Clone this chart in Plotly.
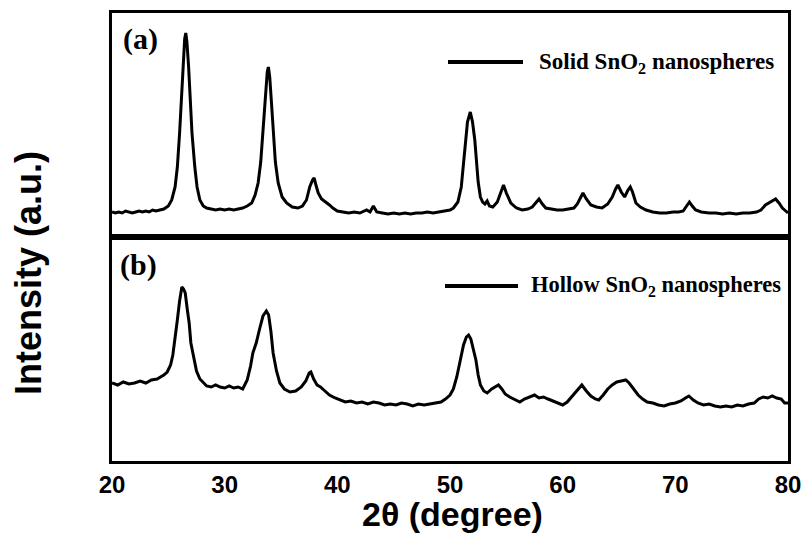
import plotly.graph_objects as go
from plotly.subplots import make_subplots

# ---- Data (intensity in a.u.) ----
solid_2theta = [20.0, 20.3, 20.6, 20.9, 21.2, 21.5, 21.8, 22.1, 22.4, 22.7, 23.0, 23.3, 23.6, 23.9, 24.2, 24.6,
                25.0, 25.3, 25.6, 25.8, 26.0, 26.15, 26.3, 26.45, 26.55, 26.65, 26.8, 26.95, 27.1, 27.35, 27.55,
                27.8, 28.1, 28.4, 28.8, 29.2, 29.6, 30.0, 30.4, 30.8, 31.2, 31.6, 32.0, 32.4, 32.7, 32.97, 33.2,
                33.4, 33.6, 33.78, 33.88, 34.0, 34.15, 34.3, 34.5, 34.75, 35.1, 35.5, 36.0, 36.5, 36.9, 37.26,
                37.55, 37.8, 37.94, 38.1, 38.3, 38.6, 39.0, 39.3, 39.6, 40.0, 40.5, 41.0, 41.5, 42.0, 42.6, 42.9,
                43.2, 43.5, 44.0, 44.5, 45.0, 45.5, 46.0, 46.5, 47.0, 47.5, 48.0, 48.5, 49.0, 49.5, 50.0, 50.3,
                50.7, 51.0, 51.3, 51.55, 51.8, 52.0, 52.2, 52.35, 52.5, 52.7, 52.9, 53.1, 53.3, 53.5, 53.8, 54.2,
                54.5, 54.75, 55.0, 55.4, 55.9, 56.4, 56.9, 57.3, 57.6, 57.9, 58.2, 58.5, 59.0, 59.5, 60.0, 60.5,
                61.0, 61.3, 61.55, 61.8, 62.1, 62.5, 63.0, 63.5, 64.0, 64.4, 64.7, 64.9, 65.2, 65.5, 65.8, 66.0,
                66.2, 66.5, 66.9, 67.4, 68.0, 68.6, 69.2, 69.8, 70.3, 70.7, 71.0, 71.25, 71.5, 71.8, 72.3, 73.0,
                73.6, 74.2, 74.8, 75.4, 76.0, 76.6, 77.2, 77.6, 78.0, 78.4, 78.9, 79.2, 79.5, 79.8, 80.0]
solid_intensity = [25, 24, 25, 24, 26, 25, 24, 25, 26, 25, 26, 25, 27, 26, 27, 28,
                   31, 37, 50, 70, 104, 140, 170, 198, 204, 195, 170, 135, 104, 70, 50,
                   37, 31, 29, 28, 27, 28, 27, 28, 27, 28, 29, 31, 34, 42, 54, 75,
                   104, 140, 165, 170, 160, 135, 104, 75, 54, 40, 34, 30, 29, 31, 37,
                   50, 57, 59, 52, 44, 38, 35, 32, 29, 26, 25, 24, 25, 24, 27, 25,
                   31, 25, 24, 23, 24, 23, 24, 23, 24, 24, 25, 24, 25, 26, 27, 29,
                   35, 50, 87, 115, 125, 115, 97, 75, 55, 40, 35, 33, 36, 31, 30, 35,
                   44, 52, 44, 34, 29, 27, 28, 30, 34, 38, 33, 29, 28, 27, 27, 28,
                   29, 33, 39, 44, 38, 32, 30, 29, 33, 40, 48, 52, 45, 40, 47, 50,
                   45, 34, 30, 27, 25, 24, 24, 25, 25, 26, 31, 35, 31, 27, 25, 24,
                   24, 23, 24, 23, 24, 24, 25, 27, 32, 35, 38, 34, 29, 26, 24]

hollow_2theta = [20.0, 20.5, 21.0, 21.5, 22.0, 22.5, 23.0, 23.5, 24.0, 24.3, 24.6, 24.9, 25.2, 25.4, 25.6, 25.8,
                 26.0, 26.2, 26.35, 26.5, 26.7, 26.85, 27.0, 27.2, 27.5, 27.8, 28.1, 28.4, 28.8, 29.2, 29.6, 30.0,
                 30.4, 30.8, 31.2, 31.6, 32.0, 32.3, 32.5, 32.8, 33.1, 33.4, 33.7, 33.9, 34.1, 34.3, 34.6, 34.9,
                 35.3, 35.8, 36.3, 36.8, 37.2, 37.5, 37.65, 37.9, 38.2, 38.5, 38.9, 39.3, 39.8, 40.2, 40.7, 41.2,
                 41.7, 42.2, 42.7, 43.2, 43.7, 44.2, 44.7, 45.2, 45.7, 46.2, 46.7, 47.2, 47.7, 48.2, 48.7, 49.2,
                 49.6, 50.0, 50.3, 50.6, 50.9, 51.2, 51.45, 51.65, 51.85, 52.05, 52.3, 52.5, 52.7, 53.0, 53.3, 53.7,
                 54.0, 54.3, 54.6, 54.9, 55.3, 55.7, 56.2, 56.6, 57.0, 57.5, 57.9, 58.3, 58.7, 59.2, 59.6, 60.0,
                 60.4, 60.8, 61.2, 61.7, 62.1, 62.5, 62.9, 63.2, 63.6, 64.0, 64.4, 64.8, 65.2, 65.6, 65.9, 66.3,
                 66.7, 67.1, 67.5, 68.0, 68.5, 69.0, 69.5, 70.0, 70.5, 70.9, 71.2, 71.6, 72.0, 72.5, 73.0, 73.5,
                 74.0, 74.5, 75.0, 75.5, 76.0, 76.5, 77.0, 77.4, 77.8, 78.2, 78.6, 79.0, 79.4, 79.7, 80.0]
hollow_intensity = [78, 76, 79, 77, 78, 80, 78, 81, 82, 84, 86, 89, 96, 106, 122, 141,
                    160, 174, 172, 168, 150, 138, 118, 106, 90, 82, 78, 75, 74, 76, 74, 73,
                    75, 73, 74, 72, 81, 95, 108, 118, 132, 145, 150, 146, 130, 108, 90, 78,
                    72, 69, 70, 74, 80, 88, 89, 82, 76, 74, 70, 66, 63, 61, 59, 60,
                    58, 59, 57, 59, 58, 56, 57, 56, 58, 57, 55, 57, 56, 57, 58, 59,
                    62, 66, 72, 84, 100, 116, 124, 126, 122, 112, 101, 86, 76, 70, 68, 72,
                    74, 76, 72, 67, 64, 62, 59, 62, 64, 66, 63, 64, 62, 60, 58, 56,
                    59, 64, 70, 76, 70, 65, 62, 61, 66, 72, 76, 79, 80, 81, 78, 72,
                    66, 62, 59, 58, 56, 55, 57, 58, 60, 63, 65, 61, 58, 56, 57, 55,
                    54, 55, 54, 56, 55, 57, 58, 62, 64, 63, 65, 63, 62, 58, 58]

x_ticks = [20, 30, 40, 50, 60, 70, 80]
panel_labels = ["(a)", "(b)"]
legend_labels = ["Solid SnO<sub>2</sub> nanospheres", "Hollow SnO<sub>2</sub> nanospheres"]

# ---- Layout geometry (page pixels) ----
W, H = 806, 533
PLOT_L, PLOT_R, PLOT_T, PLOT_B = 112, 788, 13, 461
ML, MT = PLOT_L, PLOT_T
MR = W - PLOT_R
MB = H - PLOT_B
PW, PH = PLOT_R - PLOT_L, PLOT_B - PLOT_T


def px(xpix):
    return (xpix - PLOT_L) / PW


def py(ypix):
    return (PLOT_B - ypix) / PH


fig = make_subplots(rows=2, cols=1, shared_xaxes=True, vertical_spacing=0)

fig.add_trace(go.Scatter(x=solid_2theta, y=solid_intensity, mode="lines",
                         line=dict(color="black", width=3), showlegend=False), row=1, col=1)
fig.add_trace(go.Scatter(x=hollow_2theta, y=hollow_intensity, mode="lines",
                         line=dict(color="black", width=3), showlegend=False), row=2, col=1)

axis_common = dict(showline=True, mirror=True, linecolor="black", linewidth=2.5,
                   showgrid=False, zeroline=False, ticks="", automargin=False)
fig.update_xaxes(range=[20, 80], tickvals=x_ticks, **axis_common)
fig.update_xaxes(tickfont=dict(family="Liberation Sans, Arial", size=24, color="black", weight="bold"),
                 row=2, col=1)
fig.update_yaxes(range=[0, 224], showticklabels=False, **axis_common)

serif = "Liberation Serif, Times New Roman, serif"
sans = "Liberation Sans, Arial, sans-serif"

annotations = [
    dict(text=panel_labels[0], x=px(121), y=py(39), xanchor="left", yanchor="middle"),
    dict(text=panel_labels[1], x=px(118), y=py(265), xanchor="left", yanchor="middle"),
]
for a in annotations:
    a.update(xref="paper", yref="paper", showarrow=False,
             font=dict(family=serif, size=30, color="black", weight="bold"))

annotations += [
    dict(text=legend_labels[0], x=px(537), y=py(63), xref="paper", yref="paper", showarrow=False,
         xanchor="left", yanchor="middle", font=dict(family=serif, size=23, color="black", weight="bold")),
    dict(text=legend_labels[1], x=px(529), y=py(286), xref="paper", yref="paper", showarrow=False,
         xanchor="left", yanchor="middle", font=dict(family=serif, size=22.5, color="black", weight="bold")),
    dict(text="Intensity (a.u.)", x=px(28), y=py(273), xref="paper", yref="paper", showarrow=False,
         textangle=-90, xanchor="center", yanchor="middle",
         font=dict(family=sans, size=36, color="black", weight="bold")),
    dict(text="2θ (degree)", x=px(452), y=py(514), xref="paper", yref="paper", showarrow=False,
         xanchor="center", yanchor="middle",
         font=dict(family=sans, size=34, color="black", weight="bold")),
]

shapes = [
    dict(type="line", xref="paper", yref="paper", x0=px(448), x1=px(523), y0=py(62), y1=py(62),
         line=dict(color="black", width=4)),
    dict(type="line", xref="paper", yref="paper", x0=px(445), x1=px(518), y0=py(286), y1=py(286),
         line=dict(color="black", width=4)),
]

fig.update_layout(width=W, height=H, autosize=False,
                  margin=dict(l=ML, r=MR, t=MT, b=MB, pad=0, autoexpand=False),
                  paper_bgcolor="white", plot_bgcolor="white",
                  annotations=annotations, shapes=shapes, showlegend=False)

fig.write_html("out.html",
               config={"displayModeBar": False, "responsive": False},
               post_script="document.body.style.margin = '0px'; document.body.style.overflow = 'hidden';")
